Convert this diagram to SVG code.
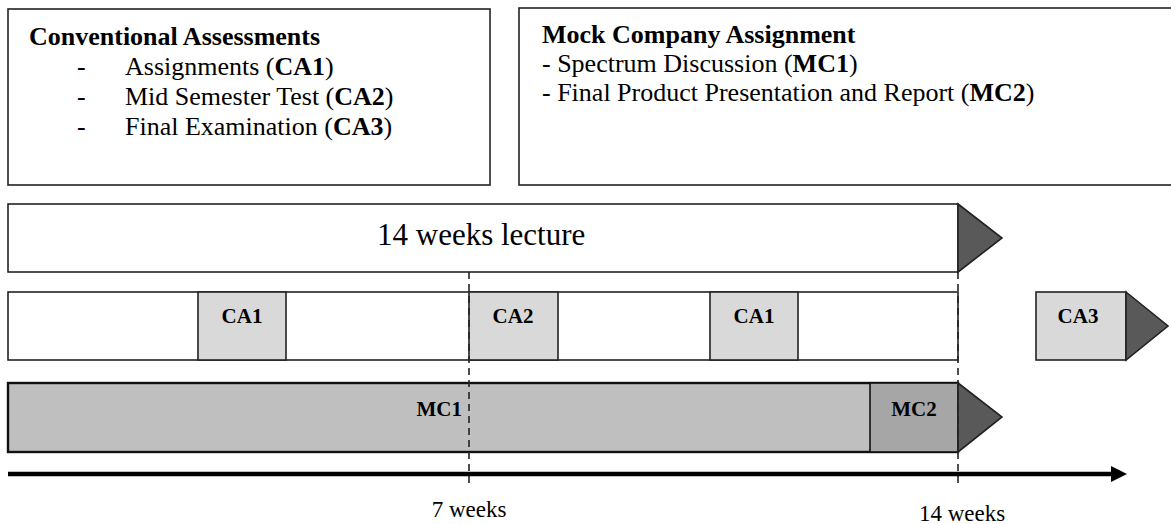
<svg xmlns="http://www.w3.org/2000/svg" width="1171" height="524" viewBox="0 0 1171 524">
<style>
text{font-family:"Liberation Serif","Times New Roman",serif;fill:#000}
.b{font-weight:bold}
.box{fill:#fff;stroke:#222;stroke-width:1.6}
.ca{fill:#d9d9d9;stroke:#222;stroke-width:1.6}
.tri{fill:#595959;stroke:#222;stroke-width:1.6;stroke-linejoin:miter}
.mc{fill:#bfbfbf;stroke:#111;stroke-width:2.4}
.mc2{fill:#a6a6a6;stroke:#111;stroke-width:1.6}
.dash{stroke:#222;stroke-width:1.6;stroke-dasharray:7 5;fill:none}
.h{font-size:26px}
.lbl{font-size:21px;font-weight:bold}
.ax{font-size:23px}
</style>
<g id="conventional">
<rect class="box" x="8" y="9" width="482" height="176"/>
<text class="h b" x="29" y="45">Conventional Assessments</text>
<text class="h" x="77" y="75">-</text><text class="h" x="125" y="75">Assignments (<tspan class="b">CA1</tspan>)</text>
<text class="h" x="77" y="105">-</text><text class="h" x="125" y="105">Mid Semester Test (<tspan class="b">CA2</tspan>)</text>
<text class="h" x="77" y="135">-</text><text class="h" x="125" y="135">Final Examination (<tspan class="b">CA3</tspan>)</text>
</g>
<g id="mock">
<rect class="box" x="519" y="8" width="670" height="177"/>
<text class="h b" x="542" y="43">Mock Company Assignment</text>
<text class="h" x="542" y="72">- Spectrum Discussion (<tspan class="b">MC1</tspan>)</text>
<text class="h" x="542" y="101">- Final Product Presentation and Report (<tspan class="b">MC2</tspan>)</text>
</g>
<g id="lecture">
<rect class="box" x="8" y="204" width="950" height="68"/>
<polygon class="tri" points="958,204 1002,238 958,272"/>
<text x="377" y="245" style="font-size:31px">14 weeks lecture</text>
</g>
<g id="ca-row">
<rect class="box" x="8" y="292" width="950" height="68"/>
<rect class="ca" x="198" y="292" width="88" height="68"/>
<text class="lbl" x="242" y="323" text-anchor="middle">CA1</text>
<rect class="ca" x="469" y="292" width="89" height="68"/>
<text class="lbl" x="513" y="323" text-anchor="middle">CA2</text>
<rect class="ca" x="710" y="292" width="88" height="68"/>
<text class="lbl" x="754" y="323" text-anchor="middle">CA1</text>
</g>
<g id="ca3">
<rect class="ca" x="1036" y="292" width="90" height="68"/>
<polygon class="tri" points="1126,292 1168,326 1126,360"/>
<text class="lbl" x="1078" y="323" text-anchor="middle">CA3</text>
</g>
<g id="mc-row">
<rect class="mc" x="8" y="383" width="950" height="69"/>
<rect class="mc2" x="870" y="383" width="88" height="69"/>
<polygon class="tri" points="958,383 1002,417 958,452"/>
<text class="lbl" x="462" y="416" text-anchor="end">MC1</text>
<text class="lbl" x="914" y="416" text-anchor="middle">MC2</text>
</g>
<g id="connectors">
<line class="dash" x1="469" y1="272" x2="469" y2="484"/>
<line class="dash" x1="958" y1="272" x2="958" y2="484"/>
<line x1="8" y1="474" x2="1114" y2="474" stroke="#000" stroke-width="4.5"/>
<polygon points="1111,466 1127,474 1111,482" fill="#000"/>
</g>
<g id="axis-labels">
<text class="ax" x="469" y="517" text-anchor="middle">7 weeks</text>
<text class="ax" x="962" y="521" text-anchor="middle">14 weeks</text>
</g>
</svg>
